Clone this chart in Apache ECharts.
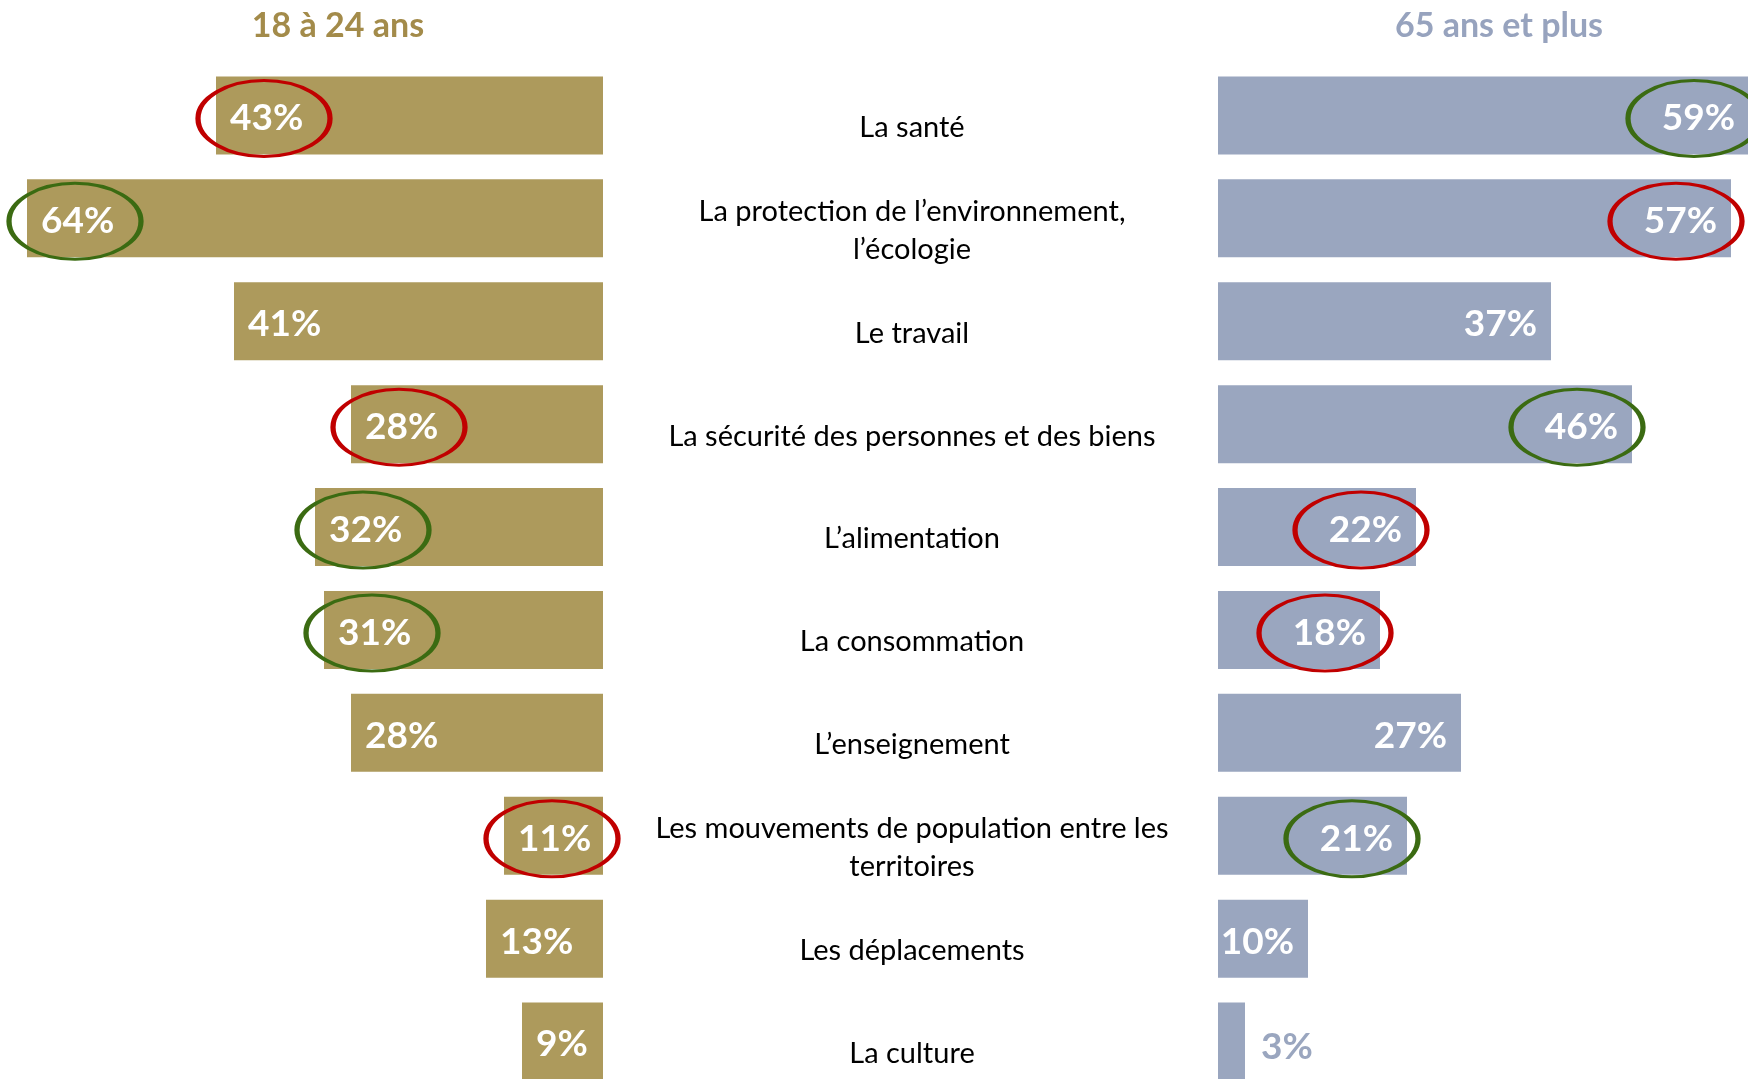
<!DOCTYPE html>
<html>
<head>
<meta charset="utf-8">
<script src="https://cdn.jsdelivr.net/npm/echarts@6/dist/echarts.min.js"></script>
<style>
  html, body { margin: 0; padding: 0; background: #ffffff; }
  #chart { width: 1748px; height: 1079px; }
</style>
</head>
<body>
<div id="chart"></div>
<script>
// thèmes (de haut en bas)
const categories = [
  'La santé',
  'La protection de l’environnement,\nl’écologie',
  'Le travail',
  'La sécurité des personnes et des biens',
  'L’alimentation',
  'La consommation',
  'L’enseignement',
  'Les mouvements de population entre les\nterritoires',
  'Les déplacements',
  'La culture'
];
const young = [43, 64, 41, 28, 32, 31, 28, 11, 13, 9];   // 18 à 24 ans
const senior = [59, 57, 37, 46, 22, 18, 27, 21, 10, 3];  // 65 ans et plus
// entourés : 'r' = rouge, 'g' = vert
const youngCircle = ['r', 'g', null, 'r', 'g', 'g', null, 'r', null, null];
const seniorCircle = ['g', 'r', null, 'g', 'r', 'r', null, 'g', null, null];

const GOLD = '#AD9A5C';
const BLUE = '#9AA6BF';
const RED = '#C00000';
const GREEN = '#3B6B12';
const ELLIPSE = 'path://M50,0 C77.6,0 100,22.4 100,50 C100,77.6 77.6,100 50,100 C22.4,100 0,77.6 0,50 C0,22.4 22.4,0 50,0 Z';
const FONT = 'Lato, "Open Sans", sans-serif';

function circles(values, flags) {
  const out = [];
  flags.forEach((f, i) => {
    if (!f) return;
    out.push({
      value: [values[i], i],
      itemStyle: { borderColor: f === 'r' ? RED : GREEN }
    });
  });
  return out;
}

const chart = echarts.init(document.getElementById('chart'));
const option = {
  backgroundColor: '#ffffff',
  animation: false,
  title: [
    {
      text: '18 à 24 ans', left: 333, top: 4, textAlign: 'center',
      textStyle: { color: '#A38B4A', fontSize: 34, fontWeight: 'bold', fontFamily: FONT }
    },
    {
      text: '65 ans et plus', left: 1494, top: 4, textAlign: 'center',
      textStyle: { color: '#97A3BE', fontSize: 34, fontWeight: 'bold', fontFamily: FONT }
    }
  ],
  grid: [
    { left: 0, width: 603, top: 64, height: 1029, containLabel: false, outerBoundsMode: 'none' },
    { left: 1218, width: 540, top: 64, height: 1029, containLabel: false, outerBoundsMode: 'none' },
    // grille des libellés (légèrement plus bas que les barres)
    { left: 1218, width: 540, top: 76, height: 1029, containLabel: false, outerBoundsMode: 'none' }
  ],
  xAxis: [
    { gridIndex: 0, type: 'value', inverse: true, min: 0, max: 67, show: false },
    { gridIndex: 1, type: 'value', min: 0, max: 60, show: false },
    { gridIndex: 2, type: 'value', min: 0, max: 60, show: false }
  ],
  yAxis: [
    { gridIndex: 0, type: 'category', inverse: true, data: categories, show: false },
    { gridIndex: 1, type: 'category', inverse: true, data: categories, show: false },
    {
      gridIndex: 2, type: 'category', inverse: true, data: categories,
      axisLine: { show: false }, axisTick: { show: false }, splitLine: { show: false },
      axisLabel: {
        margin: 306, align: 'center', color: '#000000',
        fontSize: 29, fontFamily: FONT, lineHeight: 38
      }
    }
  ],
  series: [
    {
      type: 'bar', xAxisIndex: 0, yAxisIndex: 0, data: young,
      barWidth: 78, silent: true,
      itemStyle: { color: GOLD },
      label: {
        show: true, position: 'insideLeft', distance: 14, offset: [0, 3],
        formatter: '{c}%', color: '#ffffff', fontSize: 37, fontWeight: 'bold', fontFamily: FONT
      }
    },
    {
      type: 'bar', xAxisIndex: 1, yAxisIndex: 1,
      data: senior.map(v => v < 5
        ? { value: v, label: { position: 'right', color: BLUE, distance: 16, offset: [0, 6] } }
        : v),
      barWidth: 78, silent: true,
      itemStyle: { color: BLUE },
      label: {
        show: true, position: 'insideRight', distance: 14, offset: [0, 3],
        formatter: '{c}%', color: '#ffffff', fontSize: 37, fontWeight: 'bold', fontFamily: FONT
      }
    },
    {
      type: 'scatter', xAxisIndex: 0, yAxisIndex: 0, silent: true, z: 5,
      data: circles(young, youngCircle),
      symbol: ELLIPSE, symbolSize: [132, 76], symbolOffset: [48, 3],
      itemStyle: { color: 'rgba(0,0,0,0)', borderWidth: 4, opacity: 1 }
    },
    {
      type: 'scatter', xAxisIndex: 1, yAxisIndex: 1, silent: true, z: 5,
      data: circles(senior, seniorCircle),
      symbol: ELLIPSE, symbolSize: [132, 76], symbolOffset: [-55, 3],
      itemStyle: { color: 'rgba(0,0,0,0)', borderWidth: 4, opacity: 1 }
    }
  ]
};
chart.setOption(option);
</script>
</body>
</html>
